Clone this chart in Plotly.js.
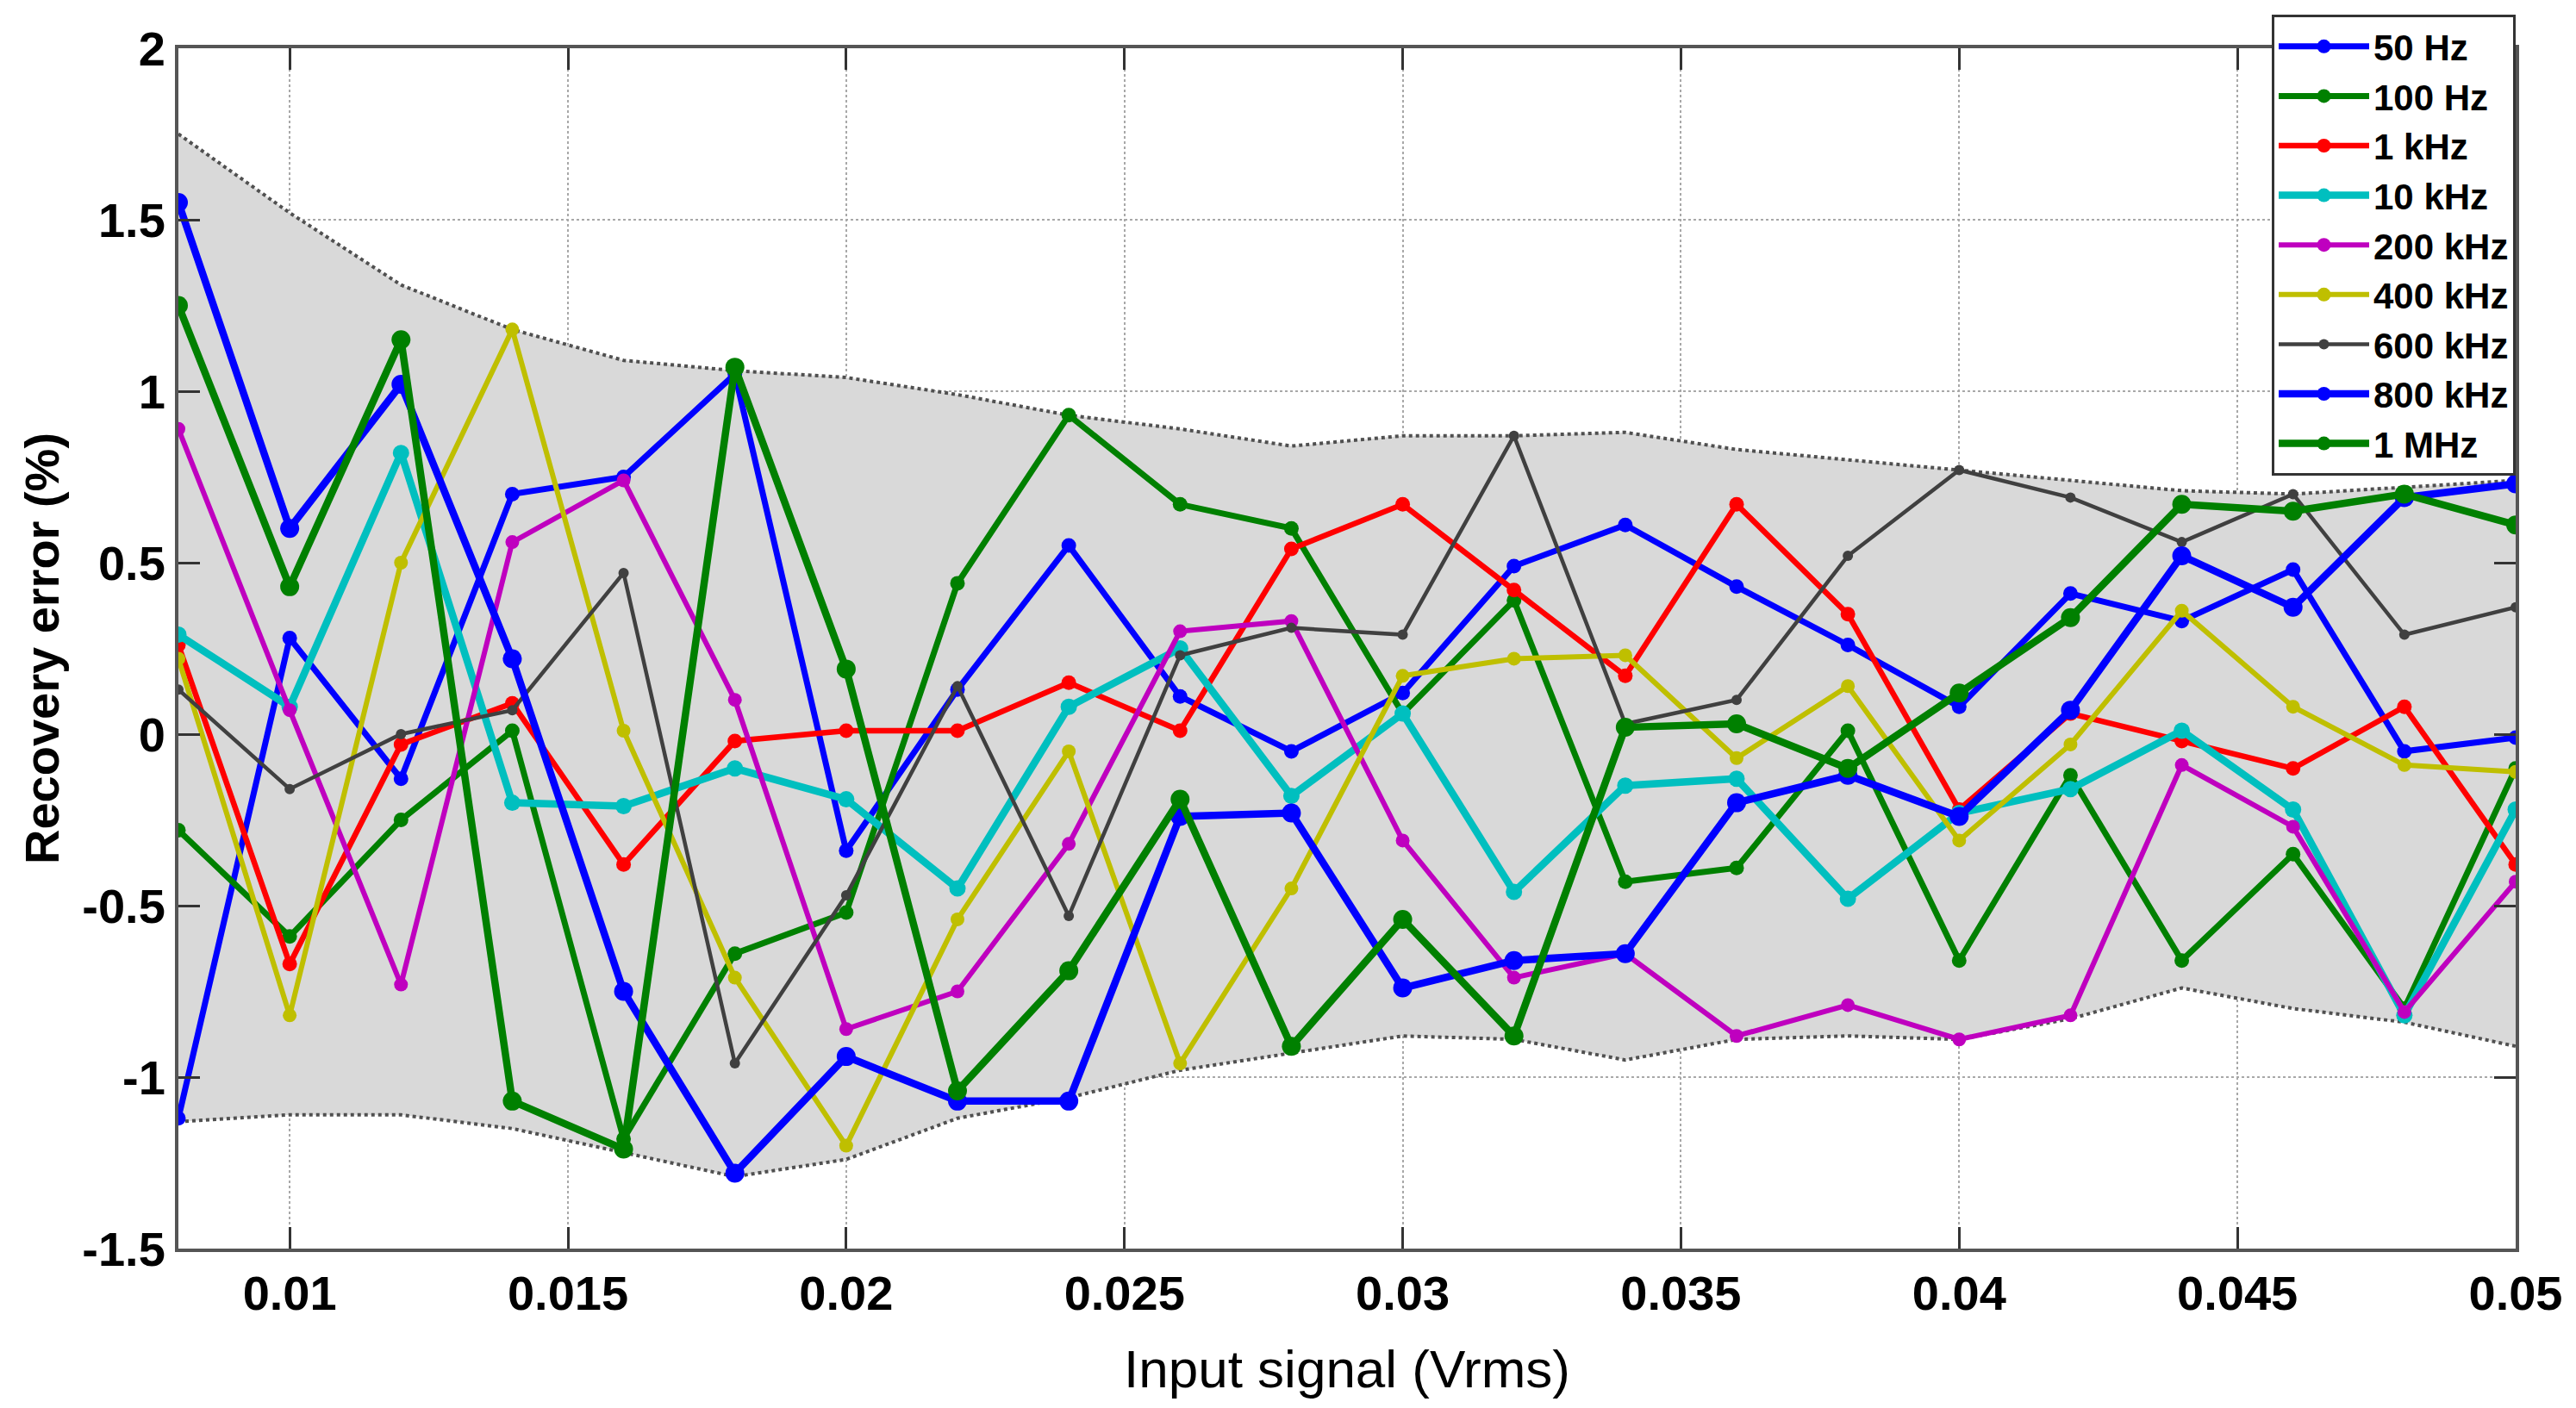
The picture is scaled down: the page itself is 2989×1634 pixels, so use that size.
<!DOCTYPE html>
<html>
<head>
<meta charset="utf-8">
<script src="https://cdn.plot.ly/plotly-3.0.1.min.js"></script>
<style>
  html, body { margin: 0; padding: 0; background: #ffffff; }
  #chart { width: 2989px; height: 1634px; }
</style>
</head>
<body>
<div id="chart"></div>
<script>
// ---- data ----
const inputSignal = [0.008, 0.010, 0.012, 0.014, 0.016, 0.018, 0.020, 0.022, 0.024, 0.026, 0.028,
                     0.030, 0.032, 0.034, 0.036, 0.038, 0.040, 0.042, 0.044, 0.046, 0.048, 0.050];

const err50Hz   = [-1.12, 0.28, -0.13, 0.70, 0.75, 1.05, -0.34, 0.13, 0.55, 0.11, -0.05, 0.12, 0.49, 0.61, 0.43, 0.26, 0.08, 0.41, 0.33, 0.48, -0.05, -0.01];
const err100Hz  = [-0.28, -0.59, -0.25, 0.01, -1.18, -0.64, -0.52, 0.44, 0.93, 0.67, 0.60, 0.06, 0.39, -0.43, -0.39, 0.01, -0.66, -0.12, -0.66, -0.35, -0.80, -0.10];
const err1kHz   = [0.26, -0.67, -0.03, 0.09, -0.38, -0.02, 0.01, 0.01, 0.15, 0.01, 0.54, 0.67, 0.42, 0.17, 0.67, 0.35, -0.22, 0.06, -0.02, -0.10, 0.08, -0.38];
const err10kHz  = [0.29, 0.08, 0.82, -0.20, -0.21, -0.10, -0.19, -0.45, 0.08, 0.25, -0.18, 0.06, -0.46, -0.15, -0.13, -0.48, -0.23, -0.16, 0.01, -0.22, -0.82, -0.22];
const err200kHz = [0.89, 0.07, -0.73, 0.56, 0.74, 0.10, -0.86, -0.75, -0.32, 0.30, 0.33, -0.31, -0.71, -0.64, -0.88, -0.79, -0.89, -0.82, -0.09, -0.27, -0.81, -0.43];
const err400kHz = [0.22, -0.82, 0.50, 1.18, 0.01, -0.71, -1.20, -0.54, -0.05, -0.96, -0.45, 0.17, 0.22, 0.23, -0.07, 0.14, -0.31, -0.03, 0.36, 0.08, -0.09, -0.11];
const err600kHz = [0.13, -0.16, 0.00, 0.07, 0.47, -0.96, -0.47, 0.14, -0.53, 0.23, 0.31, 0.29, 0.87, 0.03, 0.10, 0.52, 0.77, 0.69, 0.56, 0.70, 0.29, 0.37];
const err800kHz = [1.55, 0.60, 1.02, 0.22, -0.75, -1.28, -0.94, -1.07, -1.07, -0.24, -0.23, -0.74, -0.66, -0.64, -0.20, -0.12, -0.24, 0.07, 0.52, 0.37, 0.69, 0.73];
const err1MHz   = [1.25, 0.43, 1.15, -1.07, -1.21, 1.07, 0.19, -1.04, -0.69, -0.19, -0.91, -0.54, -0.88, 0.02, 0.03, -0.10, 0.12, 0.34, 0.67, 0.65, 0.70, 0.61];

const bandUpper = [1.75, 1.52, 1.31, 1.18, 1.09, 1.06, 1.04, 0.99, 0.93, 0.89, 0.84, 0.87, 0.87, 0.88, 0.83, 0.80, 0.77, 0.74, 0.71, 0.70, 0.72, 0.74];
const bandLower = [-1.13, -1.11, -1.11, -1.15, -1.22, -1.29, -1.24, -1.12, -1.06, -0.98, -0.93, -0.88, -0.89, -0.95, -0.89, -0.88, -0.89, -0.83, -0.74, -0.80, -0.84, -0.91];

const seriesNames = ["50 Hz", "100 Hz", "1 kHz", "10 kHz", "200 kHz", "400 kHz", "600 kHz", "800 kHz", "1 MHz"];

const xTickVals  = [0.01, 0.015, 0.02, 0.025, 0.03, 0.035, 0.04, 0.045, 0.05];
const xTickText  = ["0.01", "0.015", "0.02", "0.025", "0.03", "0.035", "0.04", "0.045", "0.05"];
const yTickVals  = [-1.5, -1, -0.5, 0, 0.5, 1, 1.5, 2];
const yTickText  = ["-1.5", "-1", "-0.5", "0", "0.5", "1", "1.5", "2"];

// ---- styles ----
const seriesValues = [err50Hz, err100Hz, err1kHz, err10kHz, err200kHz, err400kHz, err600kHz, err800kHz, err1MHz];
const seriesColors = ["#0000ff", "#008000", "#ff0000", "#00bfbf", "#bf00bf", "#bfbf00", "#404040", "#0000ff", "#008000"];
const lineWidths   = [7, 7, 6.5, 8.5, 6, 6, 4.5, 8.5, 8.5];
const markerSizes  = [17, 17, 17, 19, 16, 16, 12, 22, 22];

const FONT = "Liberation Sans, Arial, Helvetica, sans-serif";

const traces = [];
traces.push({
  x: inputSignal, y: bandUpper, type: "scatter", mode: "lines",
  line: {color: "#505050", width: 4, dash: "dot"},
  showlegend: false, hoverinfo: "skip"
});
traces.push({
  x: inputSignal, y: bandLower, type: "scatter", mode: "lines",
  fill: "tonexty", fillcolor: "#d9d9d9",
  line: {color: "#505050", width: 4, dash: "dot"},
  showlegend: false, hoverinfo: "skip"
});
seriesNames.forEach(function (name, i) {
  traces.push({
    x: inputSignal, y: seriesValues[i], type: "scatter", mode: "lines+markers",
    name: name, legendgroup: "g" + i,
    line: {color: seriesColors[i], width: lineWidths[i]},
    marker: {color: seriesColors[i], size: markerSizes[i], symbol: "circle"}
  });
});

const axisCommon = {
  showline: true, mirror: "ticks", linecolor: "#555555", linewidth: 4,
  ticks: "inside", ticklen: 25, tickwidth: 3, tickcolor: "#333333",
  showgrid: true, gridcolor: "#a8a8a8", gridwidth: 2, griddash: "dot",
  tickfont: {family: FONT, size: 56, color: "#000000", weight: "bold"},
  automargin: false, tickmode: "array"
};

const layout = {
  width: 2989, height: 1634,
  margin: {l: 207, r: 70, t: 56, b: 185, pad: 0},
  paper_bgcolor: "#ffffff", plot_bgcolor: "#ffffff",
  font: {family: FONT, color: "#000000"},
  showlegend: true,
  xaxis: Object.assign({}, axisCommon, {
    range: [0.008, 0.05], tickvals: xTickVals, ticktext: xTickText,
    zeroline: false,
    title: {text: "Input signal (Vrms)", font: {family: FONT, size: 62, color: "#000000"}, standoff: 36}
  }),
  yaxis: Object.assign({}, axisCommon, {
    range: [-1.5, 2], tickvals: yTickVals, ticktext: yTickText,
    zeroline: true, zerolinecolor: "#555555", zerolinewidth: 2,
    title: {text: "Recovery error (%)", font: {family: FONT, size: 56, color: "#000000", weight: "bold"}, standoff: 10}
  }),
  legend: {
    x: 1, xanchor: "right", y: 1.028, yanchor: "top",
    bgcolor: "#ffffff", bordercolor: "#333333", borderwidth: 3,
    font: {family: FONT, size: 42, color: "#000000", weight: "bold"},
    itemwidth: 105, tracegroupgap: 0, traceorder: "grouped"
  }
};

Plotly.newPlot("chart", traces, layout, {displayModeBar: false, staticPlot: true});
</script>
</body>
</html>
